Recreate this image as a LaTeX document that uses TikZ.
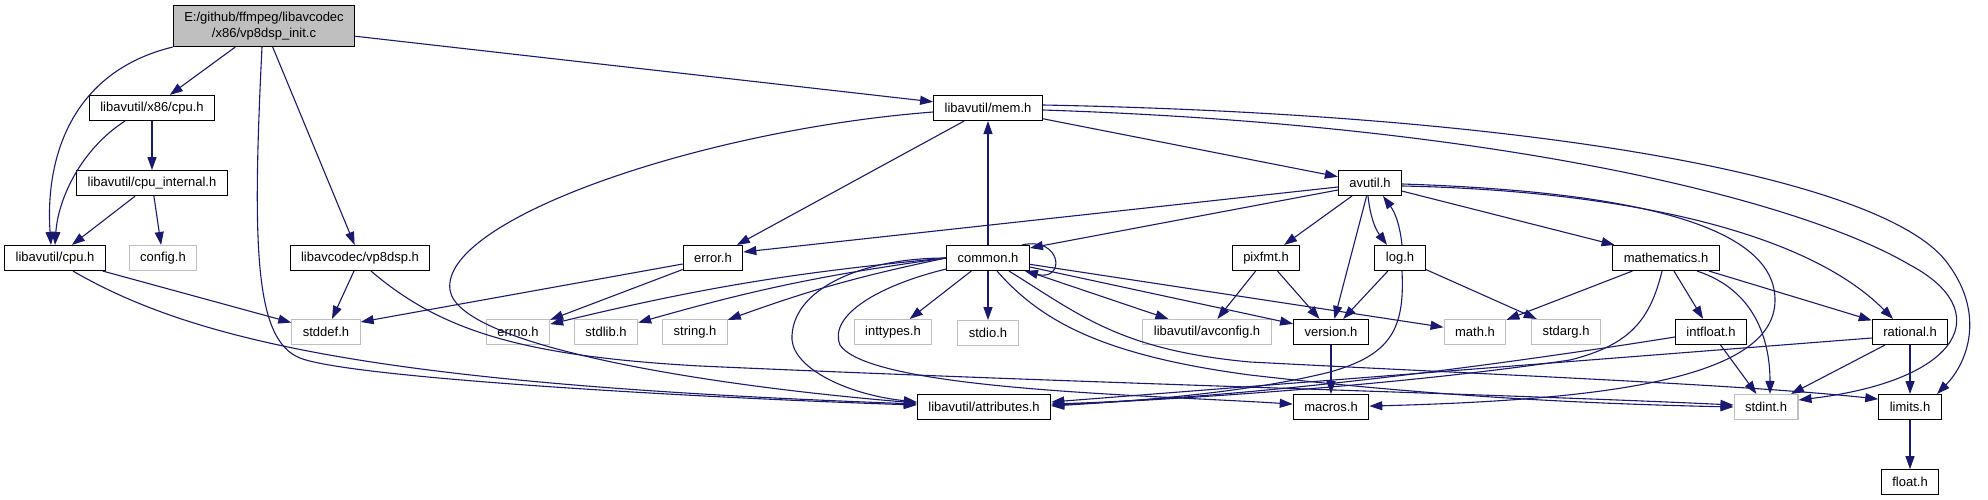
\documentclass[tikz,border=0pt]{standalone}
\usepackage{fontspec}
\setmainfont{Liberation Sans}
\usepackage{tikz}
\usetikzlibrary{arrows.meta,positioning}
\definecolor{incBlue}{HTML}{191970}
\definecolor{missGrey}{HTML}{BFBFBF}

\begin{document}
\begin{tikzpicture}[
  x=1pt, y=-1pt,
  hdr/.style={draw=black, line width=1.1pt, fill=white, minimum height=25pt, inner xsep=11pt, inner ysep=0pt, font=\fontsize{13}{15.5}\selectfont},
  sys/.style={hdr, draw=missGrey},
  srcfile/.style={hdr, fill=missGrey, minimum height=41pt, align=center},
  inc/.style={-{Triangle[length=13pt,width=9pt]}, line width=1.1pt, incBlue},
  node distance=49pt
]
\path[use as bounding box, fill=white] (0,0) rectangle (1988,500);

% Source file and first headers
\node[srcfile] (root) at (264,26) {E:/github/ffmpeg/libavcodec\\/x86/vp8dsp\_init.c};
\node[hdr] (x86cpu) at (152,108) {libavutil/x86/cpu.h};
\node[hdr] (mem) at (988,108) {libavutil/mem.h};
\node[hdr, below=of x86cpu] (cpuint) {libavutil/cpu\_internal.h};
\node[hdr] (avutil) at (1370,183) {avutil.h};

% Middle row
\node[hdr] (cpu) at (55,258) {libavutil/cpu.h};
\node[sys] (config) at (163,258) {config.h};
\node[hdr] (vp8dsp) at (360,258) {libavcodec/vp8dsp.h};
\node[hdr] (error) at (713,258) {error.h};
\node[hdr] (common) at (988,258) {common.h};
\node[hdr] (pixfmt) at (1266,258) {pixfmt.h};
\node[hdr] (log) at (1400,258) {log.h};
\node[hdr] (mathem) at (1666,258) {mathematics.h};

% System headers and leaves
\node[sys] (stddef) at (326,332) {stddef.h};
\node[sys] (errno) at (518,332) {errno.h};
\node[sys] (stdlib) at (606,332) {stdlib.h};
\node[sys] (string) at (695,332) {string.h};
\node[sys] (inttypes) at (893,332) {inttypes.h};
\node[sys, below=of common] (stdio) {stdio.h};
\node[sys] (avconfig) at (1207,332) {libavutil/avconfig.h};
\node[hdr] (version) at (1331,332) {version.h};
\node[sys] (math) at (1475,332) {math.h};
\node[sys] (stdarg) at (1566,332) {stdarg.h};
\node[hdr] (intfloat) at (1711,332) {intfloat.h};
\node[hdr] (rational) at (1910,332) {rational.h};

\node[hdr] (attrib) at (984,407) {libavutil/attributes.h};
\node[hdr, below=of version] (macros) {macros.h};
\node[sys] (stdint) at (1766,407) {stdint.h};
\node[hdr, below=of rational] (limits) {limits.h};
\node[hdr, below=of limits] (float) {float.h};

% Includes of the source file
\draw[inc] (root) -- (x86cpu);
\draw[inc] (root) -- (vp8dsp);
\draw[inc] (root) -- (mem);
\draw[inc] (root.south west) .. controls (70,72) and (45,160) .. ([xshift=-4pt]cpu.north);
\draw[inc] ([xshift=-2pt]root.south) .. controls (252,250) and (255,340) .. (300,358) .. controls (350,378) and (700,398) .. ([yshift=2pt]attrib.west);

% cpu headers
\draw[inc] ([xshift=-27pt]x86cpu.south) .. controls (80,150) and (58,200) .. (cpu.north);
\draw[inc] (x86cpu) -- (cpuint);
\draw[inc] (cpuint) -- (cpu);
\draw[inc] (cpuint) -- (config);
\draw[inc] (cpu) -- (stddef);
\draw[inc] ([xshift=18pt]cpu.south) .. controls (200,345) and (400,385) .. ([yshift=3pt]attrib.west);
\draw[inc] (vp8dsp) -- (stddef);
\draw[inc] ([xshift=11pt]vp8dsp.south) .. controls (440,330) and (520,356) .. (700,366) .. controls (1100,384) and (1500,394) .. ([yshift=2pt]stdint.west);

% mem.h
\draw[inc] ([yshift=-4pt]mem.west) .. controls (700,130) and (440,220) .. (450,290) .. controls (458,345) and (700,385) .. ([yshift=4pt]attrib.west);
\draw[inc] (mem) -- (error);
\draw[inc] (mem) -- (avutil);
\draw[inc] ([yshift=3pt]mem.east) .. controls (1550,115) and (1880,180) .. (1945,260) .. controls (1985,310) and (1970,360) .. ([xshift=27pt]limits.north);
\draw[inc] ([yshift=-2pt]mem.east) .. controls (1500,125) and (1800,200) .. (1910,265) .. controls (1995,310) and (1965,380) .. ([yshift=7pt]stdint.east);

% common.h
\draw[inc] (common) -- (mem);
\draw[inc] ([xshift=-8pt]common.north east) .. controls (1062,236) and (1066,282) .. ([xshift=-5pt]common.south east);
\draw[inc] (common.west) to[bend right=4] (errno);
\draw[inc] (common.west) to[bend right=4] (stdlib);
\draw[inc] (common.west) to[bend right=4] (string);
\draw[inc] (common) -- (inttypes);
\draw[inc] (common) -- (stdio);
\draw[inc] (common) -- (avconfig);
\draw[inc] (common) -- (version);
\draw[inc] (common) -- (math);
\draw[inc] (common.west) .. controls (860,258) and (790,290) .. (792,340) .. controls (795,370) and (850,395) .. ([yshift=5pt]attrib.west);
\draw[inc] ([yshift=2pt]common.south west) .. controls (880,285) and (828,315) .. (840,345) .. controls (870,390) and (1150,395) .. ([yshift=3pt]macros.west);
\draw[inc] ([xshift=9pt]common.south) .. controls (1040,320) and (1100,355) .. (1250,375) .. controls (1450,398) and (1600,404) .. (stdint.west);
\draw[inc] ([xshift=21pt]common.south) .. controls (1080,315) and (1120,350) .. (1250,362) .. controls (1500,375) and (1750,385) .. ([yshift=8pt]limits.west);

% avutil.h
\draw[inc] ([yshift=-7pt]avutil.west) -- ([yshift=10pt]common.east);
\draw[inc] ([yshift=-4pt]avutil.west) -- ([yshift=6pt]error.east);
\draw[inc] (avutil) -- (pixfmt);
\draw[inc] (avutil) -- (version);
\draw[inc] ([xshift=-2pt]avutil.south) to[bend right=15] ([xshift=-13pt]log.north);
\draw[inc] (avutil) -- (mathem);
\draw[inc] ([yshift=-3pt]avutil.east) .. controls (1600,190) and (1800,225) .. ([xshift=-17pt]rational.north);
\draw[inc] ([yshift=-1pt]avutil.east) .. controls (1650,192) and (1775,230) .. (1775,300) .. controls (1775,380) and (1600,400) .. ([yshift=1pt]macros.east);

% log.h
\draw[inc] ([xshift=2pt]log.north) to[bend right=15] ([xshift=13pt]avutil.south);
\draw[inc] (log) -- (version);
\draw[inc] (log) -- (stdarg);
\draw[inc] ([xshift=2pt]log.south) .. controls (1405,330) and (1390,355) .. (1330,372) .. controls (1250,392) and (1150,400) .. ([yshift=1pt]attrib.east);

% mathematics.h
\draw[inc] (mathem) -- (math);
\draw[inc] ([xshift=-4pt]mathem.south) .. controls (1650,320) and (1630,345) .. (1570,360) .. controls (1400,385) and (1200,398) .. ([yshift=2pt]attrib.east);
\draw[inc] (mathem) -- (intfloat);
\draw[inc] ([xshift=31pt]mathem.south) .. controls (1755,290) and (1770,340) .. ([xshift=4pt]stdint.north);
\draw[inc] (mathem) -- (rational);

% intfloat.h, rational.h and the rest
\draw[inc] ([yshift=-5pt]intfloat.west) .. controls (1500,365) and (1250,398) .. ([yshift=3pt]attrib.east);
\draw[inc] (intfloat) -- (stdint);
\draw[inc] ([yshift=-6pt]rational.west) -- ([yshift=5pt]attrib.east);
\draw[inc] (rational) -- (stdint);
\draw[inc] (rational) -- (limits);
\draw[inc] (limits) -- (float);
\draw[inc] (pixfmt) -- (avconfig);
\draw[inc] (pixfmt) -- (version);
\draw[inc] (version) -- (macros);
\draw[inc] (error) -- (errno);
\draw[inc] ([yshift=-6pt]error.west) -- ([yshift=10pt]stddef.east);
\end{tikzpicture}
\end{document}
